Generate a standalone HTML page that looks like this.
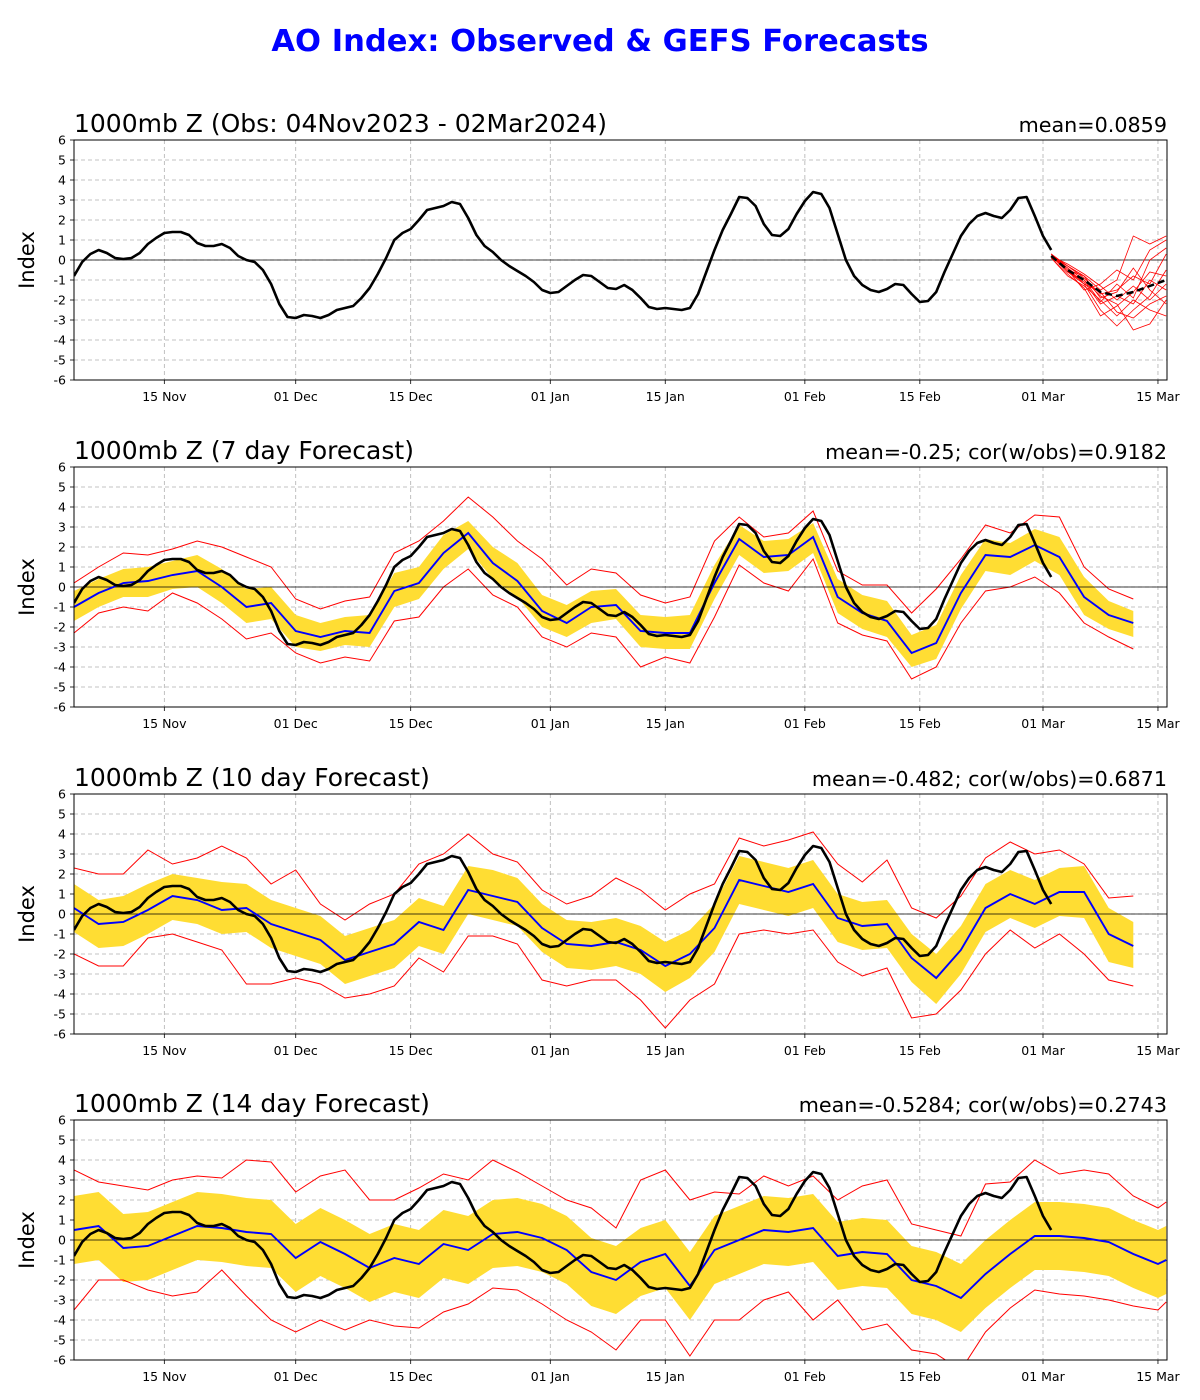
<!DOCTYPE html>
<html><head><meta charset="utf-8"><style>
body{margin:0;background:#fff;}
svg{display:block;font-family:"DejaVu Sans","Liberation Sans",sans-serif;}
</style></head><body>
<svg id="c" width="1200" height="1400" viewBox="0 0 1200 1400">
<text x="600" y="51" text-anchor="middle" font-size="30.6" font-weight="bold" fill="#0000ff">AO Index: Observed &amp; GEFS Forecasts</text>
</svg>
<script>
// ---- data ----
const monthTickDays = [11,27,41,58,72,89,103,118,132];
const monthTickLabels = ["15 Nov","01 Dec","15 Dec","01 Jan","15 Jan","01 Feb","15 Feb","01 Mar","15 Mar"];
const yTicks = [-6,-5,-4,-3,-2,-1,0,1,2,3,4,5,6];
const obs = [-0.8,-0.1,0.3,0.5,0.35,0.1,0.05,0.1,0.35,0.8,
1.1,1.35,1.4,1.4,1.25,0.85,0.7,0.7,0.8,0.6,
0.2,0.0,-0.1,-0.5,-1.2,-2.2,-2.85,-2.9,-2.75,-2.8,
-2.9,-2.75,-2.5,-2.4,-2.3,-1.9,-1.4,-0.7,0.1,1.0,
1.35,1.55,2.0,2.5,2.6,2.7,2.9,2.8,2.1,1.25,
0.7,0.4,0.0,-0.3,-0.55,-0.8,-1.1,-1.5,-1.65,-1.6,
-1.3,-1.0,-0.75,-0.8,-1.1,-1.4,-1.45,-1.25,-1.5,-1.9,
-2.35,-2.45,-2.4,-2.45,-2.5,-2.4,-1.7,-0.6,0.5,1.5,
2.3,3.15,3.1,2.7,1.8,1.25,1.2,1.55,2.3,2.95,
3.4,3.3,2.6,1.3,0.0,-0.8,-1.25,-1.5,-1.6,-1.45,
-1.2,-1.25,-1.7,-2.1,-2.05,-1.6,-0.6,0.3,1.2,1.8,
2.2,2.35,2.2,2.1,2.5,3.1,3.15,2.2,1.2,0.5];
// panel 1 ensemble (days 119..133 step 2)
const ensDays = [119,121,123,125,127,129,131,133];
const ensMean = [0.2,-0.5,-1.0,-1.6,-1.8,-1.6,-1.3,-1.0];
const ensMembers = [
[0.3,-0.3,-0.8,-1.5,-1.0,1.2,0.8,1.2],
[0.2,-0.6,-1.2,-2.5,-3.3,-2.5,-1.8,-0.5],
[0.2,-0.4,-1.0,-1.8,-2.2,-3.5,-3.2,-2.0],
[0.3,-0.5,-1.5,-1.2,-0.5,-1.0,0.5,1.0],
[0.1,-0.8,-1.3,-2.0,-2.8,-2.0,-2.5,-2.8],
[0.2,-0.3,-0.9,-1.7,-1.5,-0.8,-1.2,0.3],
[0.3,-0.6,-1.1,-2.2,-1.8,-2.2,-1.0,-1.5],
[0.2,-0.2,-0.7,-1.3,-2.0,-1.3,-2.0,-1.2],
[0.1,-0.7,-1.4,-2.8,-2.3,-1.6,-0.6,-0.8],
[0.2,-0.5,-0.8,-1.9,-1.6,-0.4,-1.5,-2.2],
[0.3,-0.4,-1.2,-1.6,-2.6,-2.9,-2.2,-1.8],
[0.2,-0.6,-1.0,-2.1,-1.2,-1.9,0.0,0.6]];
// forecast panels: days 0..129 step 3 (panel 4 to 133)
const p2Blue = [-1.0,-0.3,0.2,0.3,0.6,0.8,0.0,-1.0,-0.8,-2.2,-2.5,-2.2,-2.3,-0.2,0.2,1.7,2.7,1.2,0.3,-1.2,-1.8,-1.0,-0.9,-2.2,-2.3,-2.3,0.2,2.4,1.5,1.6,2.5,-0.5,-1.3,-1.7,-3.3,-2.8,-0.3,1.6,1.5,2.1,1.5,-0.5,-1.4,-1.8];
const p2BandHi = [-0.2,0.4,0.9,1.0,1.3,1.6,0.9,-0.1,0.0,-1.4,-1.8,-1.5,-1.4,0.7,1.0,2.6,3.3,2.0,1.2,-0.4,-0.9,-0.2,-0.1,-1.4,-1.5,-1.4,1.1,3.1,2.3,2.4,3.2,0.4,-0.4,-0.7,-2.4,-1.9,0.6,2.4,2.2,2.9,2.5,0.5,-0.7,-1.2];
const p2BandLo = [-1.7,-1.0,-0.5,-0.5,-0.1,0.0,-0.8,-1.8,-1.6,-3.0,-3.2,-2.9,-3.0,-1.0,-0.6,0.9,1.9,0.4,-0.5,-2.0,-2.5,-1.8,-1.6,-3.0,-3.1,-3.1,-0.6,1.6,0.7,0.8,1.7,-1.3,-2.1,-2.5,-4.0,-3.6,-1.1,0.8,0.6,1.3,0.6,-1.4,-2.1,-2.5];
const p2RedHi = [0.2,1.0,1.7,1.6,1.9,2.3,2.0,1.5,1.0,-0.6,-1.1,-0.7,-0.5,1.7,2.3,3.3,4.5,3.5,2.3,1.4,0.1,0.9,0.7,-0.4,-0.8,-0.5,2.3,3.5,2.5,2.7,3.8,0.8,0.1,0.1,-1.3,-0.1,1.4,3.1,2.7,3.6,3.5,1.0,-0.1,-0.6];
const p2RedLo = [-2.3,-1.3,-1.0,-1.2,-0.3,-0.8,-1.6,-2.6,-2.3,-3.3,-3.8,-3.5,-3.7,-1.7,-1.5,0.0,0.9,-0.4,-1.0,-2.5,-3.0,-2.3,-2.5,-4.0,-3.5,-3.8,-1.5,1.1,0.2,-0.2,1.4,-1.8,-2.4,-2.7,-4.6,-4.0,-1.8,-0.2,0.0,0.5,-0.3,-1.8,-2.5,-3.1];
const p3Blue = [0.3,-0.5,-0.4,0.2,0.9,0.7,0.2,0.3,-0.5,-0.9,-1.3,-2.3,-1.9,-1.5,-0.4,-0.8,1.2,0.9,0.6,-0.7,-1.5,-1.6,-1.4,-1.8,-2.6,-2.0,-0.7,1.7,1.4,1.1,1.5,-0.2,-0.6,-0.5,-2.2,-3.2,-1.8,0.3,1.0,0.5,1.1,1.1,-1.0,-1.6];
const p3BandHi = [1.5,0.7,0.9,1.5,2.0,1.8,1.6,1.5,0.7,0.3,-0.1,-1.1,-0.7,-0.3,0.8,0.4,2.4,2.2,1.8,0.5,-0.3,-0.4,-0.2,-0.6,-1.4,-0.8,0.5,2.9,2.6,2.3,2.7,1.0,0.6,0.7,-1.0,-2.0,-0.6,1.5,2.2,1.7,2.3,2.4,0.3,-0.4];
const p3BandLo = [-0.9,-1.7,-1.6,-1.0,-0.3,-0.5,-1.0,-0.9,-1.7,-2.1,-2.5,-3.5,-3.1,-2.7,-1.6,-2.0,0.0,-0.3,-0.6,-1.9,-2.7,-2.8,-2.6,-3.0,-3.9,-3.2,-1.9,0.5,0.2,-0.1,0.3,-1.4,-1.8,-1.7,-3.4,-4.5,-3.0,-0.9,-0.2,-0.7,-0.1,-0.2,-2.4,-2.7];
const p3RedHi = [2.3,2.0,2.0,3.2,2.5,2.8,3.4,2.8,1.5,2.2,0.5,-0.3,0.5,1.0,2.5,3.0,4.0,3.0,2.6,1.2,0.5,0.9,1.8,1.2,0.2,1.0,1.5,3.8,3.4,3.7,4.1,2.5,1.6,2.7,0.3,-0.2,0.9,2.8,3.6,3.0,3.2,2.5,0.8,0.9];
const p3RedLo = [-2.0,-2.6,-2.6,-1.2,-1.0,-1.4,-1.8,-3.5,-3.5,-3.2,-3.5,-4.2,-4.0,-3.6,-2.2,-2.9,-1.1,-1.1,-1.5,-3.3,-3.6,-3.3,-3.3,-4.3,-5.7,-4.3,-3.5,-1.0,-0.8,-1.0,-0.8,-2.4,-3.1,-2.7,-5.2,-5.0,-3.8,-2.0,-0.8,-1.7,-1.0,-2.0,-3.3,-3.6];
const p4Blue = [0.5,0.7,-0.4,-0.3,0.2,0.7,0.6,0.4,0.3,-0.9,-0.1,-0.7,-1.4,-0.9,-1.2,-0.2,-0.5,0.3,0.4,0.1,-0.5,-1.6,-2.0,-1.1,-0.7,-2.3,-0.5,0.0,0.5,0.4,0.6,-0.8,-0.6,-0.7,-2.0,-2.3,-2.9,-1.7,-0.7,0.2,0.2,0.1,-0.1,-0.7,-1.2,-1.0];
const p4BandHi = [2.2,2.4,1.3,1.4,1.9,2.4,2.3,2.1,2.0,0.8,1.6,1.0,0.3,0.8,0.5,1.5,1.2,2.0,2.1,1.8,1.2,0.1,-0.3,0.6,1.0,-0.6,1.2,1.7,2.2,2.1,2.3,0.9,1.1,1.0,-0.3,-0.6,-1.2,0.0,1.0,1.9,1.9,1.8,1.6,1.0,0.5,0.7];
const p4BandLo = [-1.2,-1.0,-2.1,-2.0,-1.5,-1.0,-1.1,-1.3,-1.4,-2.6,-1.8,-2.4,-3.1,-2.6,-2.9,-1.9,-2.2,-1.4,-1.3,-1.6,-2.2,-3.3,-3.7,-2.8,-2.4,-4.0,-2.2,-1.7,-1.2,-1.3,-1.1,-2.5,-2.3,-2.4,-3.7,-4.0,-4.6,-3.4,-2.4,-1.5,-1.5,-1.6,-1.8,-2.4,-2.9,-2.7];
const p4RedHi = [3.5,2.9,2.7,2.5,3.0,3.2,3.1,4.0,3.9,2.4,3.2,3.5,2.0,2.0,2.6,3.3,3.0,4.0,3.4,2.7,2.0,1.6,0.6,3.0,3.5,2.0,2.4,2.3,3.2,2.7,3.2,2.0,2.7,3.0,0.8,0.5,0.2,2.8,2.9,4.0,3.3,3.5,3.3,2.2,1.6,1.9];
const p4RedLo = [-3.5,-2.0,-2.0,-2.5,-2.8,-2.6,-1.5,-2.8,-4.0,-4.6,-4.0,-4.5,-4.0,-4.3,-4.4,-3.6,-3.2,-2.4,-2.5,-3.2,-4.0,-4.6,-5.5,-4.0,-4.0,-5.8,-4.0,-4.0,-3.0,-2.6,-4.0,-3.0,-4.5,-4.2,-5.5,-5.7,-6.5,-4.6,-3.4,-2.5,-2.7,-2.8,-3.0,-3.3,-3.5,-3.1];
const panelTitles = ["1000mb Z (Obs: 04Nov2023 - 02Mar2024)","1000mb Z (7 day Forecast)","1000mb Z (10 day Forecast)","1000mb Z (14 day Forecast)"];
const panelStats = ["mean=0.0859","mean=-0.25; cor(w/obs)=0.9182","mean=-0.482; cor(w/obs)=0.6871","mean=-0.5284; cor(w/obs)=0.2743"];

// ---- drawing ----
const svg = document.getElementById('c');
const NS = 'http://www.w3.org/2000/svg';
const L = 74, R = 1167, H = 240, DAYSPAN = 133.1;
const tops = [140, 467, 794, 1120];
function mk(tag, attrs, parent){ const e=document.createElementNS(NS,tag); for(const k in attrs) e.setAttribute(k,attrs[k]); (parent||svg).appendChild(e); return e; }
const xS = d => L + d*(R-L)/DAYSPAN;
function stepDays(n, last){ const a=[]; for(let i=0;i<n;i++) a.push(i*3); if(last!==undefined) a[n-1]=last; return a; }
function path(days, vals, yS){ return days.map((d,i)=>(i?'L':'M')+xS(d).toFixed(1)+','+yS(vals[i]).toFixed(1)).join(''); }

const forecasts = [null,
  {blue:p2Blue, hi:p2BandHi, lo:p2BandLo, rhi:p2RedHi, rlo:p2RedLo},
  {blue:p3Blue, hi:p3BandHi, lo:p3BandLo, rhi:p3RedHi, rlo:p3RedLo},
  {blue:p4Blue, hi:p4BandHi, lo:p4BandLo, rhi:p4RedHi, rlo:p4RedLo}];

tops.forEach((top, p) => {
  const yS = v => top + H/2 - v*H/12;
  const g = mk('g', {});
  
  
  const clipId = 'clip'+p;
  const cp = mk('clipPath', {id:clipId}, g);
  mk('rect', {x:L, y:top, width:R-L, height:H}, cp);
  yTicks.forEach(t => {
    const gl = mk('line', {x1:L, x2:R, y1:yS(t), y2:yS(t), stroke:'#b0b0b0', 'stroke-width':0.8, 'stroke-dasharray':'4,3'}, g);
    
    
    mk('line', {x1:L-4, x2:L, y1:yS(t), y2:yS(t), stroke:'#000', 'stroke-width':0.8}, g);
    const tl = mk('text', {x:L-8, y:yS(t)+4.5, 'text-anchor':'end', 'font-size':12.5}, g);
    tl.textContent = t;
    
    
  });
  monthTickDays.forEach((d,i) => {
    const gl = mk('line', {x1:xS(d), x2:xS(d), y1:top, y2:top+H, stroke:'#b0b0b0', 'stroke-width':0.8, 'stroke-dasharray':'4,3'}, g);
    
    
    mk('line', {x1:xS(d), x2:xS(d), y1:top+H, y2:top+H+4, stroke:'#000', 'stroke-width':0.8}, g);
    const tl = mk('text', {x:xS(d), y:top+H+21, 'text-anchor':'middle', 'font-size':12.5}, g);
    tl.textContent = monthTickLabels[i];
    
    
  });
  const cg = mk('g', {'clip-path':'url(#'+clipId+')'}, g);
  const f = forecasts[p];
  if (f) {
    const days = stepDays(f.blue.length, p===3 ? 133 : undefined);
    const band = mk('path', {d: path(days, f.hi, yS) + days.slice().reverse().map((d,j)=>'L'+xS(d).toFixed(1)+','+yS(f.lo[days.length-1-j]).toFixed(1)).join('') + 'Z', fill:'#ffdd33', stroke:'none'}, cg);
    
    
    const rh = mk('path', {d:path(days, f.rhi, yS), fill:'none', stroke:'#ff0000', 'stroke-width':1}, cg);
    
    
    const rl = mk('path', {d:path(days, f.rlo, yS), fill:'none', stroke:'#ff0000', 'stroke-width':1}, cg);
    
    
  }
  const zl = mk('line', {x1:L, x2:R, y1:yS(0), y2:yS(0), stroke:'#000', 'stroke-width':0.8}, cg);
  
  
  if (f) {
    const days = stepDays(f.blue.length, p===3 ? 133 : undefined);
    const bl = mk('path', {d:path(days, f.blue, yS), fill:'none', stroke:'#0000ff', 'stroke-width':1.9}, cg);
    
    
  } else {
    ensMembers.forEach(m => {
      const ml = mk('path', {d:path(ensDays, m, yS), fill:'none', stroke:'#ff0000', 'stroke-width':0.8}, cg);
      
      
    });
    const em = mk('path', {d:path(ensDays, ensMean, yS), fill:'none', stroke:'#000', 'stroke-width':2.5, 'stroke-dasharray':'7,4'}, cg);
    
    
  }
  const od = obs.map((v,i)=>i);
  const ol = mk('path', {d:path(od, obs, yS), fill:'none', stroke:'#000', 'stroke-width':2.6, 'stroke-linejoin':'round'}, cg);
  
  
  mk('rect', {x:L, y:top, width:R-L, height:H, fill:'none', stroke:'#000', 'stroke-width':1}, g);
  const t1 = mk('text', {x:L, y:top-8, 'font-size':25}, g);
  t1.textContent = panelTitles[p];
  
  
  const t2 = mk('text', {x:R, y:top-8, 'text-anchor':'end', 'font-size':20.7}, g);
  t2.textContent = panelStats[p];
  
  
  const yl = mk('text', {x:0, y:0, 'text-anchor':'middle', 'font-size':21, transform:'translate(34,'+(top+H/2)+') rotate(-90)'}, g);
  yl.textContent = 'Index';
  
  
});
</script>
</body></html>
